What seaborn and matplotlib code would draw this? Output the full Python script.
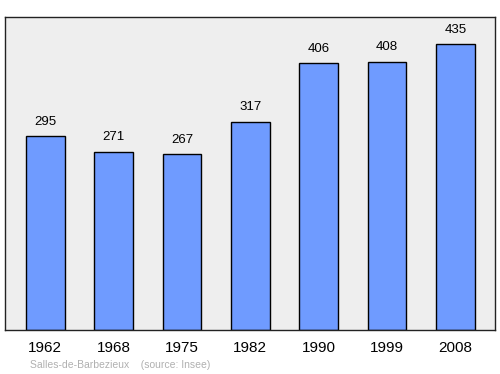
import matplotlib
matplotlib.use("Agg")
import matplotlib.pyplot as plt
import seaborn as sns
import pandas as pd

years = ["1962", "1968", "1975", "1982", "1990", "1999", "2008"]
population = [295, 271, 267, 317, 406, 408, 435]
place = "Salles-de-Barbezieux"
source = "(source: Insee)"

sns.set_style("white")
plt.rcParams['font.family'] = ['Liberation Sans', 'DejaVu Sans']
plt.rcParams['text.color'] = 'black'
plt.rcParams['xtick.color'] = 'black'

df = pd.DataFrame({"year": years, "pop": population})

fig = plt.figure(figsize=(5, 3.74), dpi=100)
ax = fig.add_axes([0.01, 0.1176, 0.98, 0.837])
ax.set_facecolor("#eeeeee")
sns.barplot(data=df, x="year", y="pop", color="#6f9bff", saturation=1,
            edgecolor="black", linewidth=1, width=0.57, ax=ax)
ax.set_xlim(-0.59, 6.58)
ax.set_ylim(0, 476)
for i, v in enumerate(population):
    ax.annotate(str(v), (i, v), xytext=(0, 6), textcoords="offset points",
                ha="center", va="bottom", fontsize=9.5, color="black")
ax.set_yticks([])
ax.set_xlabel("")
ax.set_ylabel("")
ax.tick_params(axis="x", length=0, labelsize=11, pad=8, labelcolor="black")
for s in ax.spines.values():
    s.set_visible(True)
    s.set_color("#222222")
    s.set_linewidth(1)
fig.text(0.06, 0.012, place + "    " + source, fontsize=7.5, color="#b0b0b0",
         ha="left", va="bottom")
fig.savefig("out.png", dpi=100)
